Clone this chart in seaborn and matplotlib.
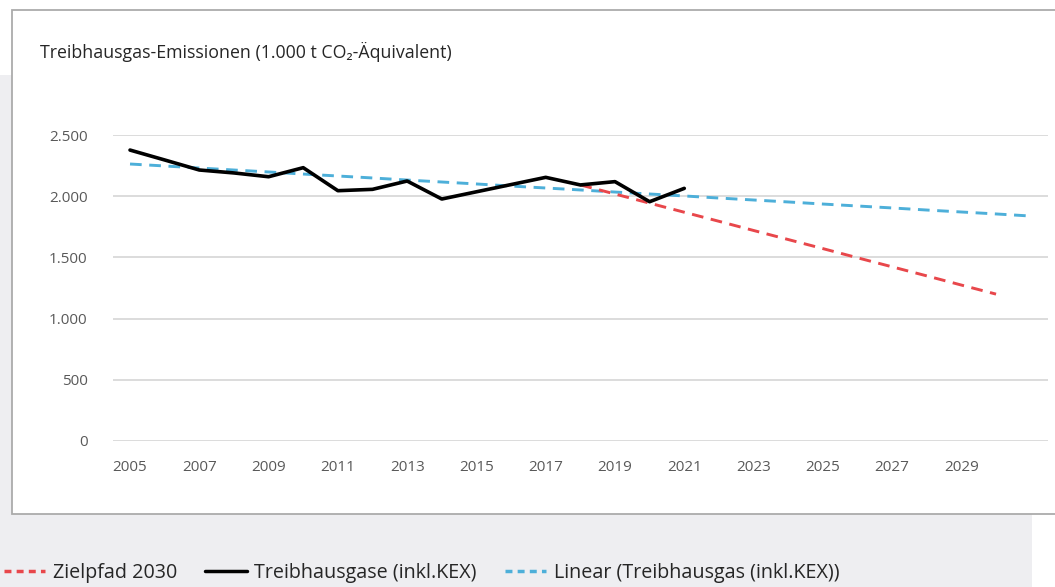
import matplotlib
matplotlib.use('Agg')
import matplotlib.pyplot as plt
import matplotlib.ticker as mticker
from matplotlib.patches import Rectangle
from matplotlib.lines import Line2D
import seaborn as sns
import pandas as pd

# Daten
jahre_ist = [2005, 2006, 2007, 2008, 2009, 2010, 2011, 2012, 2013, 2014,
             2015, 2016, 2017, 2018, 2019, 2020, 2021]
thg_ist = [2377, 2296, 2214, 2190, 2159, 2233, 2045, 2056, 2124, 1977,
           2036, 2095, 2154, 2092, 2119, 1955, 2064]

jahre_ziel = [2018, 2019, 2020, 2021, 2022, 2023, 2024, 2025, 2026, 2027,
              2028, 2029, 2030]
thg_ziel = [2092, 2018, 1943, 1869, 1795, 1720, 1646, 1572, 1497, 1423,
            1349, 1274, 1200]

jahre_trend = [2005, 2006, 2007, 2008, 2009, 2010, 2011, 2012, 2013, 2014,
               2015, 2016, 2017, 2018, 2019, 2020, 2021, 2022, 2023, 2024,
               2025, 2026, 2027, 2028, 2029, 2030, 2031]
thg_trend = [2263, 2247, 2230, 2214, 2198, 2181, 2165, 2149, 2132, 2116,
             2100, 2083, 2067, 2051, 2034, 2018, 2002, 1985, 1969, 1953,
             1936, 1920, 1904, 1887, 1871, 1855, 1838]

x_ticks = list(range(2005, 2030, 2))
y_ticks = [0, 500, 1000, 1500, 2000, 2500]

rot = '#E8474B'
blau = '#4DAFD9'
schwarz = '#000000'

sns.set_style('white')
plt.rcParams['font.family'] = ['Open Sans', 'DejaVu Sans']

W, H = 1055, 587
fig = plt.figure(figsize=(W / 100, H / 100), dpi=100)
fig.patch.set_facecolor('white')

# Hintergrund (grau) und weisser Diagrammrahmen
fig.patches.append(Rectangle((0, 0), 1032 / W, (H - 75) / H, transform=fig.transFigure,
                             facecolor='#EEEEF1', edgecolor='none', zorder=-3))
fig.patches.append(Rectangle((12 / W, (H - 514) / H), 1.0, (514 - 10) / H,
                             transform=fig.transFigure, facecolor='white',
                             edgecolor='#ABABAB', linewidth=1.3, zorder=-2))

ax = fig.add_axes([112.7 / W, (H - 441) / H, (1048 - 112.7) / W, (441 - 135) / H])
ax.set_facecolor('none')

df_ziel = pd.DataFrame({'Jahr': jahre_ziel, 'Wert': thg_ziel})
df_ist = pd.DataFrame({'Jahr': jahre_ist, 'Wert': thg_ist})
df_trend = pd.DataFrame({'Jahr': jahre_trend, 'Wert': thg_trend})

sns.lineplot(data=df_trend, x='Jahr', y='Wert', ax=ax, color=blau, linewidth=2.1,
             linestyle=(0, (4, 2.6)), zorder=3)
sns.lineplot(data=df_ziel, x='Jahr', y='Wert', ax=ax, color=rot, linewidth=2.1,
             linestyle=(0, (4, 2.6)), zorder=3)
sns.lineplot(data=df_ist, x='Jahr', y='Wert', ax=ax, color=schwarz, linewidth=2.6,
             zorder=4)

ax.set_xlim(2004.5, 2031.5)
ax.set_ylim(0, 2500)
ax.set_xticks(x_ticks)
ax.set_yticks(y_ticks)
ax.yaxis.set_major_formatter(mticker.FuncFormatter(lambda v, p: f'{int(v):,}'.replace(',', '.')))
ax.set_xlabel('')
ax.set_ylabel('')
ax.grid(axis='y', color='#D9D9D9', linewidth=1.3, zorder=0)
ax.grid(axis='x', visible=False)
for s in ax.spines.values():
    s.set_visible(False)
ax.tick_params(axis='both', length=0, labelsize=11, labelcolor='#595959')
ax.tick_params(axis='y', pad=18)
ax.tick_params(axis='x', pad=14)

fig.text(40 / W, (H - 52) / H, 'Treibhausgas-Emissionen (1.000 t CO\u2082-Äquivalent)',
         fontsize=12.8, color='#262626', va='center', ha='left')

handles = [
    Line2D([], [], color=rot, linewidth=2.5, linestyle=(0, (2, 1.5))),
    Line2D([], [], color=schwarz, linewidth=2.5),
    Line2D([], [], color=blau, linewidth=2.5, linestyle=(0, (2, 1.5))),
]
labels = ['Zielpfad 2030', 'Treibhausgase (inkl.KEX)', 'Linear (Treibhausgas (inkl.KEX))']
fig.legend(handles, labels, loc='center left', bbox_to_anchor=(0.0, 14 / H), ncol=3,
           frameon=False, handlelength=2.1, handletextpad=0.4,
           columnspacing=1.4, borderaxespad=0, borderpad=0.2,
           prop={'family': ['Open Sans', 'DejaVu Sans'], 'size': 14.2})

fig.savefig('out.png', dpi=100)
